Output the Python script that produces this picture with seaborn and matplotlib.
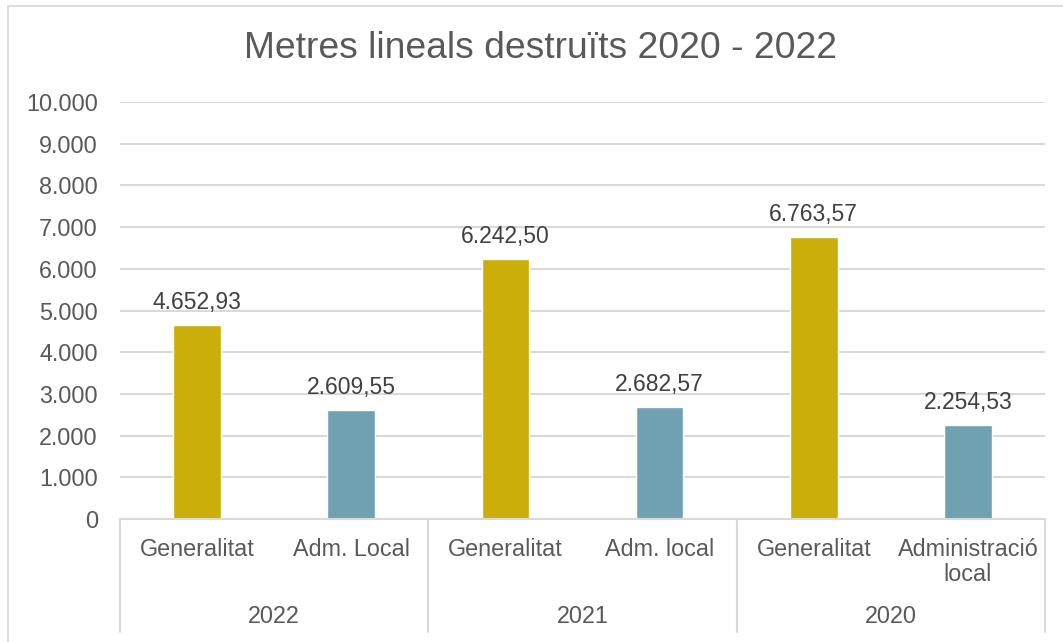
import pandas as pd
import matplotlib.pyplot as plt
import matplotlib.patches as mpatches
import seaborn as sns

# Data
years = ['2022', '2021', '2020']
categories = ['Generalitat', 'Adm. Local', 'Generalitat', 'Adm. local', 'Generalitat', 'Administració\nlocal']
values = [4652.93, 2609.55, 6242.50, 2682.57, 6763.57, 2254.53]
labels = ['4.652,93', '2.609,55', '6.242,50', '2.682,57', '6.763,57', '2.254,53']
ticks = [0, 1000, 2000, 3000, 4000, 5000, 6000, 7000, 8000, 9000, 10000]

df = pd.DataFrame({
    'slot': [f'{i}' for i in range(len(values))],
    'cat': categories,
    'valor': values,
    'tipus': ['Gen', 'Loc'] * 3,
})

sns.set_theme(style='white')
plt.rcParams['font.family'] = ['Liberation Sans', 'DejaVu Sans']

fig = plt.figure(figsize=(10.63, 6.42), dpi=100)
W, H = 1063, 642
ax = fig.add_axes([120 / W, (H - 519) / H, 925 / W, 417 / H])

# outer chart border
fig.patches.append(mpatches.Rectangle((8 / W, -0.1), 1.2, (H - 6) / H + 0.1,
                                      transform=fig.transFigure, fill=False,
                                      edgecolor='#D9D9D9', lw=1.3))

sns.barplot(data=df, x='slot', y='valor', hue='tipus',
            palette={'Gen': '#CCAE0A', 'Loc': '#6FA1B0'}, saturation=1,
            width=0.31, dodge=False, legend=False, ax=ax)

ax.set_ylim(0, 10000)
ax.set_xlim(-0.5, 5.5)
ax.set_yticks(ticks)
ax.set_yticklabels([f'{t:,}'.replace(',', '.') for t in ticks], fontsize=16.8, color='#595959')
ax.yaxis.grid(True, color='#D9D9D9', lw=1.5)
ax.set_axisbelow(True)
ax.tick_params(axis='y', length=0, pad=16)
ax.set_xticks([])
ax.set_xlabel('')
ax.set_ylabel('')
for s in ['top', 'right', 'left']:
    ax.spines[s].set_visible(False)
ax.spines['bottom'].set_color('#D9D9D9')
ax.spines['bottom'].set_linewidth(1.5)

# data labels
for i, (v, lab) in enumerate(zip(values, labels)):
    ax.annotate(lab, (i, v), xytext=(0, 8), textcoords='offset points',
                ha='center', va='bottom', fontsize=16.5, color='#404040')

# hierarchical category axis
tr = ax.get_xaxis_transform()
for x in [-0.5, 1.5, 3.5, 5.5]:
    ax.plot([x, x], [0, -0.27], transform=tr, color='#D9D9D9', lw=1.5, clip_on=False)
for i, c in enumerate(categories):
    ax.text(i, -0.045, c, transform=tr, ha='center', va='top',
            fontsize=16.8, color='#595959', linespacing=1.15)
for j, y in enumerate(years):
    ax.text(2 * j + 0.5, -0.235, y, transform=tr, ha='center', va='center',
            fontsize=16.8, color='#595959')

fig.text(540 / W, 1 - 48 / H, 'Metres lineals destruïts 2020 - 2022',
         ha='center', va='center', fontsize=26.8, color='#595959')

fig.savefig('out.png', dpi=100)
